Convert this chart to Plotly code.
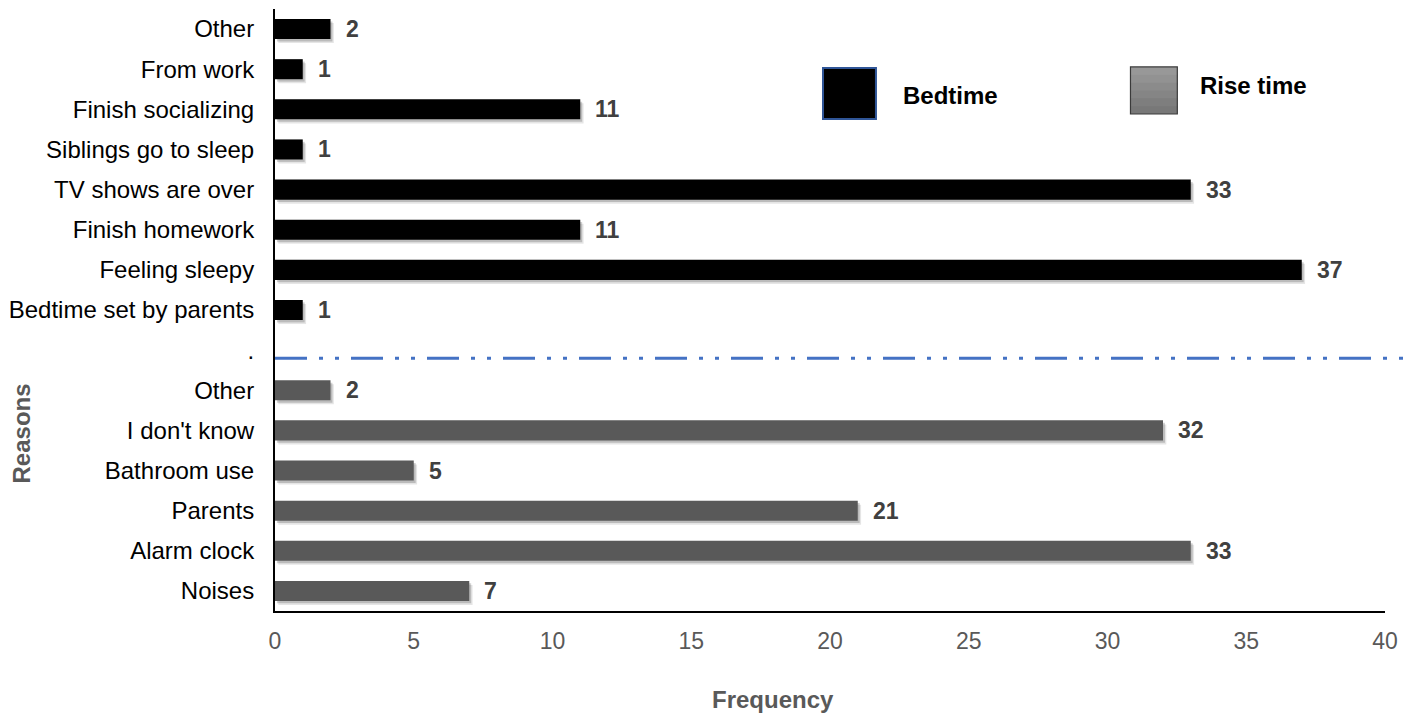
import plotly.graph_objects as go

# ---- data ----
bed_reasons = ["Other", "From work", "Finish socializing", "Siblings go to sleep",
               "TV shows are over", "Finish homework", "Feeling sleepy", "Bedtime set by parents"]
bed_values = [2, 1, 11, 1, 33, 11, 37, 1]
separator_label = ["."]
rise_reasons = ["Other", "I don't know", "Bathroom use", "Parents", "Alarm clock", "Noises"]
rise_values = [2, 32, 5, 21, 33, 7]
x_ticks = [0, 5, 10, 15, 20, 25, 30, 35, 40]

labels = bed_reasons + separator_label + rise_reasons
bed_pos = list(range(len(bed_reasons)))
sep_pos = len(bed_reasons)
rise_pos = [sep_pos + 1 + i for i in range(len(rise_reasons))]
all_pos = list(range(len(labels)))

FONT = "Liberation Sans, Arial, sans-serif"
BAR_W = 0.5

fig = go.Figure()

# soft shadows
for pos, vals in ((bed_pos, bed_values), (rise_pos, rise_values)):
    for off, base, col in ((0.10, 0.12, "rgba(0,0,0,0.10)"), (0.06, 0.07, "rgba(0,0,0,0.18)")):
        fig.add_trace(go.Bar(
            y=pos, x=vals, base=base, orientation="h", width=BAR_W,
            offset=-BAR_W / 2 + off, marker=dict(color=col, line=dict(width=0)),
            hoverinfo="skip", showlegend=False))

fig.add_trace(go.Bar(y=bed_pos, x=bed_values, orientation="h", width=BAR_W,
                     marker=dict(color="#000000", line=dict(width=0)),
                     name="Bedtime", showlegend=False))
fig.add_trace(go.Bar(y=rise_pos, x=rise_values, orientation="h", width=BAR_W,
                     marker=dict(color="#595959", line=dict(width=0)),
                     name="Rise time", showlegend=False))

# data labels
for pos, vals in ((bed_pos, bed_values), (rise_pos, rise_values)):
    for p, v in zip(pos, vals):
        fig.add_annotation(x=v, y=p, text=f"<b>{v}</b>", showarrow=False,
                           xanchor="left", xshift=13, yshift=0,
                           font=dict(family=FONT, size=23, color="#404040"))

# separator line
fig.add_shape(type="line", xref="paper", yref="y", x0=0, x1=1.0225,
              y0=sep_pos + 0.2, y1=sep_pos + 0.2,
              line=dict(color="#4472C4", width=3, dash="32px,12px,4px,12px,4px,12px"))

# legend boxes
fig.add_shape(type="rect", xref="paper", yref="paper", x0=0.4937, x1=0.5414,
              y0=0.8173, y1=0.902, fillcolor="#000000",
              line=dict(color="#2F5597", width=2))
fig.add_annotation(xref="paper", yref="paper", x=0.5638, y=0.8555, text="<b>Bedtime</b>",
                   showarrow=False, xanchor="left", yanchor="middle",
                   font=dict(family=FONT, size=24, color="#000000"))

y0, y1 = 0.8256, 0.9037
n = 6
for i in range(n):
    t = i / (n - 1)
    c = int(round(0x98 + (0x78 - 0x98) * t))
    fig.add_shape(type="rect", xref="paper", yref="paper", x0=0.7707, x1=0.8129,
                  y0=max(y0, y1 - (y1 - y0) * (i + 1) / n - 0.004), y1=y1 - (y1 - y0) * i / n,
                  fillcolor=f"rgb({c},{c},{c})", line=dict(width=0), layer="above")
fig.add_shape(type="rect", xref="paper", yref="paper", x0=0.7707, x1=0.8129,
              y0=y0, y1=y1, fillcolor="rgba(0,0,0,0)",
              line=dict(color="#3a3a3a", width=1.2), layer="above")
fig.add_annotation(xref="paper", yref="paper", x=0.8318, y=0.8721, text="<b>Rise time</b>",
                   showarrow=False, xanchor="left", yanchor="middle",
                   font=dict(family=FONT, size=24, color="#000000"))

# axis titles
fig.add_annotation(xref="paper", yref="paper", x=-0.2275, y=(611 - 433) / 602,
                   text="<b>Reasons</b>", textangle=-90, showarrow=False,
                   xanchor="center", yanchor="middle",
                   font=dict(family=FONT, size=24, color="#595959"))
fig.add_annotation(xref="paper", yref="paper", x=(772 - 273) / 1112, y=(611 - 699) / 602,
                   text="<b>Frequency</b>", showarrow=False,
                   xanchor="center", yanchor="middle",
                   font=dict(family=FONT, size=24, color="#595959"))

fig.update_layout(
    width=1416, height=713,
    margin=dict(l=273, r=31, t=9, b=102),
    paper_bgcolor="white", plot_bgcolor="white",
    barmode="overlay", showlegend=False,
    font=dict(family=FONT),
    xaxis=dict(range=[0, 40], tickvals=x_ticks, showgrid=False, zeroline=False,
               showline=True, linecolor="#000000", linewidth=2, ticks="",
               ticklabelstandoff=8,
               tickfont=dict(family=FONT, size=23, color="#595959")),
    yaxis=dict(range=[len(labels) - 0.5, -0.5], tickvals=all_pos, ticktext=labels,
               showgrid=False, zeroline=False, showline=True, linecolor="#000000",
               linewidth=2, ticks="", ticklabelstandoff=14,
               tickfont=dict(family=FONT, size=24, color="#000000")),
)

fig.write_html("out.html")
